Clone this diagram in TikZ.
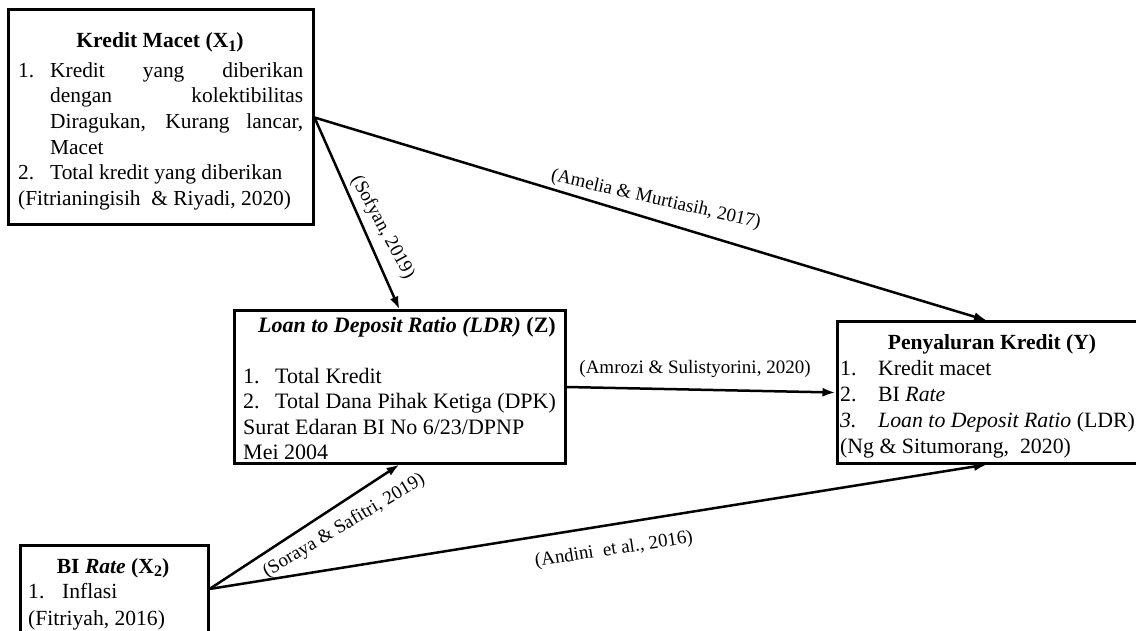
\documentclass[tikz,border=0pt]{standalone}
\usepackage{fontspec}
\setmainfont{Liberation Serif}
\usetikzlibrary{arrows.meta}
\begin{document}
\begin{tikzpicture}[x=1pt,y=-1pt,
  box/.style={draw, line width=3pt, inner sep=0pt},
  conn/.style={line width=2.5pt, -{Latex[length=13pt,width=9pt]}},
  txt/.style={inner sep=0pt, align=left, anchor=north west},
  ttl/.style={inner sep=0pt, anchor=base, font=\fontsize{21.6}{26}\selectfont\bfseries},
  lbl/.style={inner sep=0pt, font=\fontsize{19}{22}\selectfont}]
\useasboundingbox (0,0) rectangle (1136,631);
% boxes
\node[box, minimum width=305pt, minimum height=215pt] (x1) at (160.5,117.5) {};
\node[box, minimum width=331pt, minimum height=152pt] (z) at (399.5,387) {};
\node[box, minimum width=300pt, minimum height=141pt] (y) at (987,392.5) {};
\node[box, minimum width=188pt, minimum height=88pt] (x2) at (114,589) {};
% titles
\node[ttl] (x1t) at (160,48) {Kredit Macet (X\raisebox{-0.35ex}{\fontsize{16}{16}\selectfont\bfseries 1})};
\node[ttl, font=\fontsize{22}{26}\selectfont\bfseries] (zt) at (407,332) {\textit{Loan to Deposit Ratio (LDR)} (Z)};
\node[ttl] (yt) at (992,349) {Penyaluran Kredit (Y)};
\node[ttl] (x2t) at (113,573) {BI \textit{Rate} (X\raisebox{-0.35ex}{\fontsize{16}{16}\selectfont\bfseries 2})};
% bodies
\node[txt, font=\fontsize{21.4}{25.6}\selectfont] (x1b) at (18,59.1) {%
\strut\makebox[32pt][l]{1.}\makebox[253pt][s]{Kredit yang diberikan}\\
\strut\hspace*{32pt}\makebox[253pt][s]{dengan kolektibilitas}\\
\strut\hspace*{32pt}\makebox[253pt][s]{Diragukan, Kurang lancar,}\\
\strut\hspace*{32pt}Macet\\
\strut\makebox[32pt][l]{2.}Total kredit yang diberikan\\
\strut(Fitrianingisih \ \& Riyadi, 2020)};
\node[txt, font=\fontsize{22}{25.5}\selectfont] (zb) at (243,365.15) {%
\strut\makebox[32pt][l]{1.}Total Kredit\\
\strut\makebox[32pt][l]{2.}Total Dana Pihak Ketiga (DPK)\\
\strut Surat Edaran BI No 6/23/DPNP\\
\strut Mei 2004};
\node[txt, font=\fontsize{21.8}{26}\selectfont] (yb) at (840,356.8) {%
\strut\makebox[38pt][l]{1.}Kredit macet\\
\strut\makebox[38pt][l]{2.}BI \textit{Rate}\\
\strut\makebox[38pt][l]{\textit{3.}}\textit{Loan to Deposit Ratio} (LDR)\\
\strut(Ng \& Situmorang, \ 2020)};
\node[txt, font=\fontsize{21.6}{27}\selectfont] (x2b) at (28,579.1) {%
\strut\makebox[34pt][l]{1.}Inflasi\\
\strut(Fitriyah, 2016)};
% connectors
\draw[conn] (x1.east) -- (y.north);
\draw[conn] (x1.east) -- (z.north);
\draw[conn] (z.east) -- (y.west);
\draw[conn] (x2.east) -- (z.south);
\draw[conn] (x2.east) -- (y.south);
% labels
\node[lbl, rotate=-61.5] (lsof) at (382.5,227.5) {(Sofyan, 2019)};
\node[lbl, rotate=-12.8] (lame) at (655.8,199.7) {(Amelia \& Murtiasih, 2017)};
\node[lbl] (lamr) at (695,369) {(Amrozi \& Sulistyorini, 2020)};
\node[lbl, rotate=30.8] (lsor) at (344,526) {(Soraya \& Safitri, 2019)};
\node[lbl, rotate=8.9] (land) at (614,550) {(Andini \ et al., 2016)};
\end{tikzpicture}
\end{document}
